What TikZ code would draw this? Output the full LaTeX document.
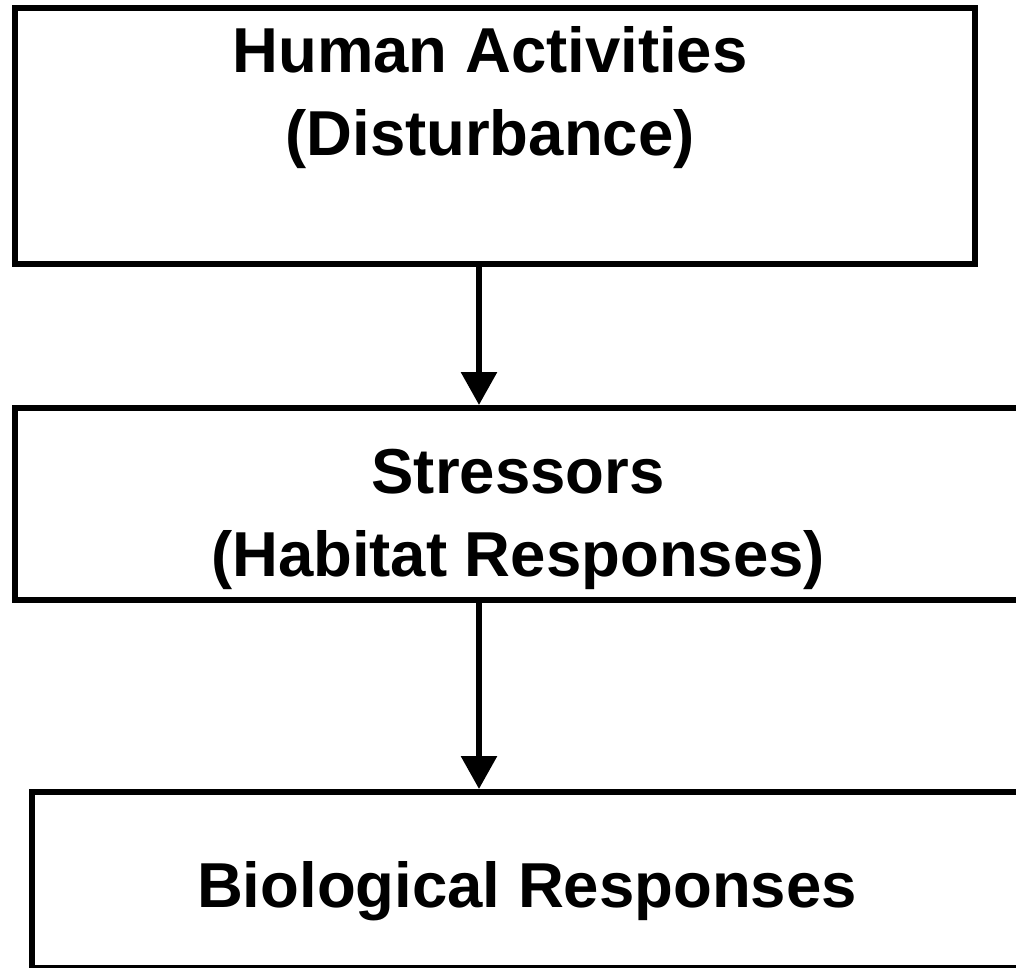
\documentclass[tikz,border=0pt]{standalone}
\usepackage{fontspec}
\setmainfont{Liberation Sans}
\usetikzlibrary{arrows.meta}
\tikzset{
  box/.style={draw=black, line width=6pt, rectangle, inner sep=0pt, fill=none},
  lbl/.style={anchor=base, inner sep=0pt, font=\fontsize{63.5}{83}\selectfont\bfseries},
  arr/.style={line width=6pt, -{Triangle[width=35pt,length=33pt]}}
}
\begin{document}
\begin{tikzpicture}[x=1pt,y=-1pt]
\useasboundingbox (0,0) rectangle (1016,967);
\node[box, minimum width=960pt, minimum height=256pt] (b1) at (495,136) {};
\node[box, minimum width=1006pt, minimum height=192pt] (b2) at (518,504) {};
\node[box, minimum width=990.5pt, minimum height=176pt] (b3) at (526.75,880) {};
\coordinate (ax) at (479,0);
\node[lbl] (t1) at (490,72) {\setlength{\tabcolsep}{0pt}\begin{tabular}[t]{c}Human Activities\\(Disturbance)\end{tabular}};
\node[lbl] (t2) at (518,493) {\setlength{\tabcolsep}{0pt}\begin{tabular}[t]{c}Stressors\\(Habitat Responses)\end{tabular}};
\node[lbl] (t3) at (527,907) {Biological Responses};
\draw[arr] (b1.south -| ax) -- (b2.north -| ax);
\draw[arr] (b2.south -| ax) -- (b3.north -| ax);
\end{tikzpicture}
\end{document}
